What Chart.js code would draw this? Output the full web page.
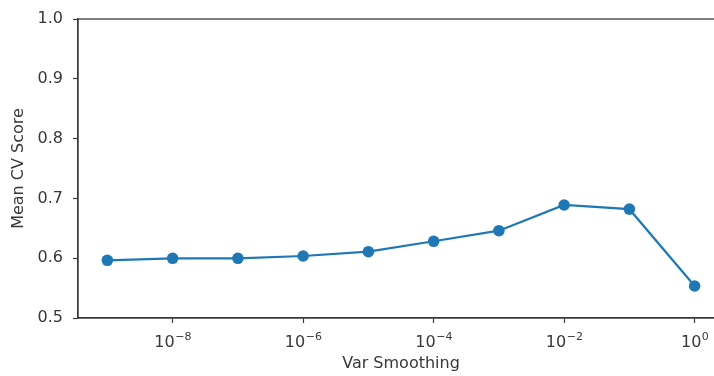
<!DOCTYPE html>
<html>
<head>
<meta charset="utf-8">
<script src="https://cdn.jsdelivr.net/npm/chart.js@4/dist/chart.umd.min.js"></script>
<style>
  html, body { margin: 0; padding: 0; background: #fff; overflow: hidden; }
  #wrap { width: 714px; height: 376px; position: relative; overflow: hidden; }
  #chart { position: absolute; left: 0; top: 0; }
</style>
</head>
<body>
<div id="wrap"><canvas id="chart" width="724" height="376"></canvas></div>
<script>
// Grid-search results for GaussianNB var_smoothing
const varSmoothing = [1e-9, 1e-8, 1e-7, 1e-6, 1e-5, 1e-4, 1e-3, 1e-2, 1e-1, 1e0];
const meanCvScores = [0.5965, 0.5998, 0.5998, 0.6037, 0.6109, 0.6283, 0.646, 0.689, 0.682, 0.5535];
const xTickValues = [1e-8, 1e-6, 1e-4, 1e-2, 1e0];
const yTickValues = [0.5, 0.6, 0.7, 0.8, 0.9, 1.0];

const axisColor = '#3a3a3a';
const textColor = '#383838';
const fontFamily = 'DejaVu Sans';
const fontSize = 16;
const supSize = 11;

function exponentOf(v) {
  const e = Math.round(Math.log10(v));
  return e < 0 ? '\u2212' + Math.abs(e) : String(e);
}

// Draws the full rectangular frame around the plot area
const frame = {
  id: 'frame',
  afterDatasetsDraw(chart) {
    const a = chart.chartArea, ctx = chart.ctx;
    ctx.save();
    ctx.strokeStyle = axisColor;
    ctx.lineWidth = 1.3;
    ctx.strokeRect(a.left, a.top, a.right - a.left, a.bottom - a.top);
    ctx.restore();
  }
};

// Power-of-ten tick labels with a raised exponent
const powerLabels = {
  id: 'powerLabels',
  afterDraw(chart) {
    const scale = chart.scales.x, ctx = chart.ctx;
    const baseY = scale.top + 29;
    ctx.save();
    ctx.fillStyle = textColor;
    ctx.textBaseline = 'alphabetic';
    ctx.textAlign = 'left';
    scale.ticks.forEach(t => {
      const base = '10', exp = exponentOf(t.value);
      ctx.font = fontSize + 'px "' + fontFamily + '"';
      const wBase = ctx.measureText(base).width;
      ctx.font = supSize + 'px "' + fontFamily + '"';
      const wExp = ctx.measureText(exp).width;
      const x0 = scale.getPixelForValue(t.value) - (wBase + wExp) / 2;
      ctx.font = fontSize + 'px "' + fontFamily + '"';
      ctx.fillText(base, x0, baseY);
      ctx.font = supSize + 'px "' + fontFamily + '"';
      ctx.fillText(exp, x0 + wBase + 0.5, baseY - 7);
    });
    ctx.restore();
  }
};

new Chart(document.getElementById('chart'), {
  type: 'line',
  data: {
    datasets: [{
      data: varSmoothing.map((x, i) => ({ x: x, y: meanCvScores[i] })),
      borderColor: '#1f77b4',
      backgroundColor: '#1f77b4',
      borderWidth: 2.2,
      pointRadius: 5.8,
      pointHoverRadius: 5.8,
      pointBorderWidth: 0,
      tension: 0
    }]
  },
  options: {
    responsive: false,
    animation: false,
    layout: { autoPadding: false, padding: { top: 19, right: 0, bottom: 0, left: 0 } },
    plugins: { legend: { display: false }, tooltip: { enabled: false } },
    scales: {
      x: {
        type: 'logarithmic',
        min: Math.pow(10, -9.45),
        max: Math.pow(10, 0.45),
        afterBuildTicks(scale) { scale.ticks = xTickValues.map(v => ({ value: v })); },
        afterFit(scale) { scale.height = 58; scale.paddingLeft = 0; scale.paddingRight = 0; },
        border: { display: true, color: axisColor, width: 1.3 },
        grid: { display: true, drawOnChartArea: false, tickLength: 5, tickColor: axisColor, tickWidth: 1.2 },
        ticks: {
          color: 'rgba(0,0,0,0)', font: { family: fontFamily, size: fontSize },
          padding: 10, maxRotation: 0, autoSkip: false,
          callback: () => '10'
        },
        title: {
          display: true, text: 'Var Smoothing', color: textColor,
          font: { family: fontFamily, size: fontSize }, padding: { top: 0, bottom: 3 }
        }
      },
      y: {
        type: 'linear',
        min: 0.5,
        max: 1.0,
        afterBuildTicks(scale) { scale.ticks = yTickValues.map(v => ({ value: v })); },
        afterFit(scale) { scale.width = 78; scale.paddingTop = 0; scale.paddingBottom = 0; },
        border: { display: true, color: axisColor, width: 1.3 },
        grid: { display: true, drawOnChartArea: false, tickLength: 5, tickColor: axisColor, tickWidth: 1.2 },
        ticks: {
          color: textColor, font: { family: fontFamily, size: fontSize },
          padding: 10, autoSkip: false,
          callback: (v) => v.toFixed(1)
        },
        title: {
          display: true, text: 'Mean CV Score', color: textColor,
          font: { family: fontFamily, size: fontSize }, padding: { top: 9, bottom: 0 }
        }
      }
    }
  },
  plugins: [frame, powerLabels]
});
</script>
</body>
</html>
